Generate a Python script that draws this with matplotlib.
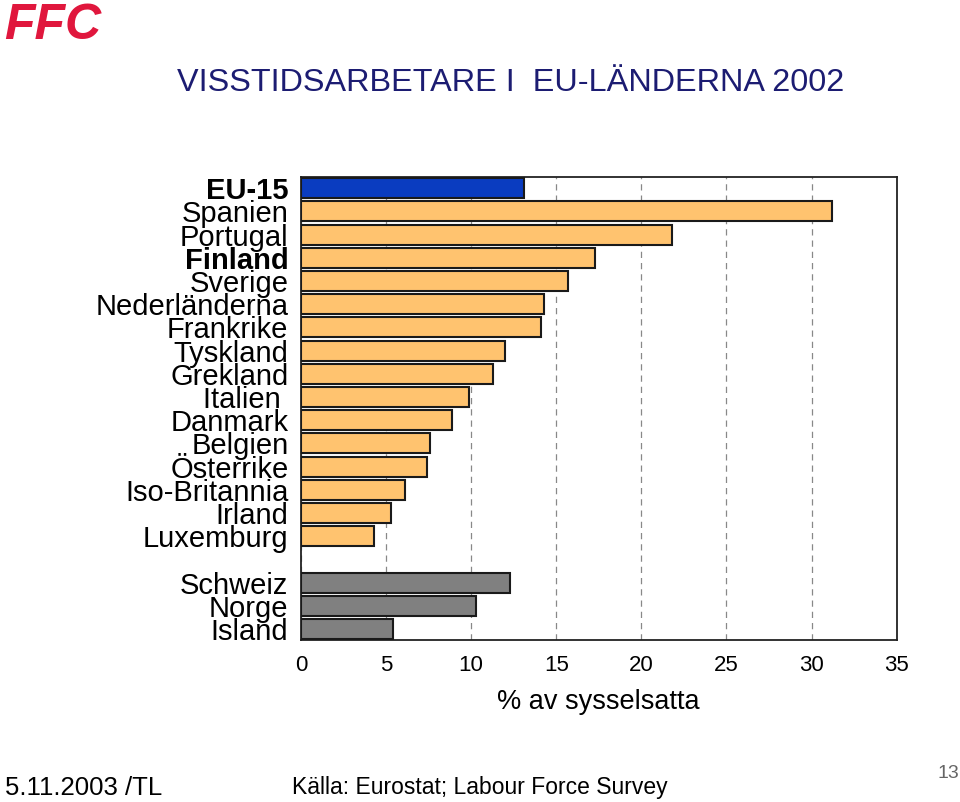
import matplotlib
matplotlib.use("Agg")
import matplotlib.pyplot as plt

# data (% temporary employees, 2002)
labels = ["EU-15", "Spanien", "Portugal", "Finland", "Sverige", "Nederländerna",
          "Frankrike", "Tyskland", "Grekland", "Italien ", "Danmark", "Belgien",
          "Österrike", "Iso-Britannia", "Irland", "Luxemburg", "",
          "Schweiz", "Norge", "Island"]
values = [13.1, 31.2, 21.8, 17.3, 15.7, 14.3, 14.1, 12.0, 11.3, 9.9, 8.9, 7.6,
          7.4, 6.1, 5.3, 4.3, None, 12.3, 10.3, 5.4]
groups = ["eu", "c", "c", "c", "c", "c", "c", "c", "c", "c", "c", "c",
          "c", "c", "c", "c", None, "x", "x", "x"]
bold_labels = ["EU-15", "Finland"]
xticks = [0, 5, 10, 15, 20, 25, 30, 35]

colors = {"eu": "#0A3CC0", "c": "#FFC36F", "x": "#808080"}

plt.rcParams['font.family'] = ['Liberation Sans', 'DejaVu Sans']

fig = plt.figure(figsize=(9.6, 8.02), dpi=100)
ax = fig.add_axes([0.3135, 0.202, 0.6205, 0.577])

for i in range(len(values)):
    if values[i] is None:
        continue
    ax.barh(i, values[i], height=0.86, color=colors[groups[i]],
            edgecolor="#1a1a1a", linewidth=1.5, zorder=3)

ax.set_xlim(0, 35)
ax.set_ylim(19.47, -0.47)
ax.set_xticks(xticks)
ax.set_xticklabels([str(t) for t in xticks], fontsize=16)
ax.set_yticks(range(len(labels)))
ax.set_yticklabels(labels, fontsize=21)
for lab in ax.get_yticklabels():
    if lab.get_text() in bold_labels:
        lab.set_fontweight("bold")
ax.tick_params(axis="both", length=0)
ax.tick_params(axis="y", pad=9)
ax.tick_params(axis="x", pad=11)
ax.xaxis.grid(True, linestyle=(0, (5, 4)), color="#888888", linewidth=0.9, zorder=0)
ax.set_axisbelow(True)
for s in ax.spines.values():
    s.set_color("#222222")
    s.set_linewidth(1.3)
ax.set_xlabel("% av sysselsatta", fontsize=19.5, labelpad=9)

fig.text(0.532, 0.897, "VISSTIDSARBETARE I  EU-LÄNDERNA 2002", fontsize=23.3,
         color="#1C1C72", ha="center", va="center")
fig.text(0.004, 0.951, "FFC", fontsize=36, color="#E0173D", fontweight="heavy",
         style="italic", ha="left", va="baseline")
fig.text(0.005, 0.018, "5.11.2003 /TL", fontsize=18.5, ha="left", va="center")
fig.text(0.304, 0.018, "Källa: Eurostat; Labour Force Survey", fontsize=16.5,
         ha="left", va="center")
fig.text(0.999, 0.036, "13", fontsize=14, color="#666666", ha="right", va="center")

fig.savefig("out.png", dpi=100)
